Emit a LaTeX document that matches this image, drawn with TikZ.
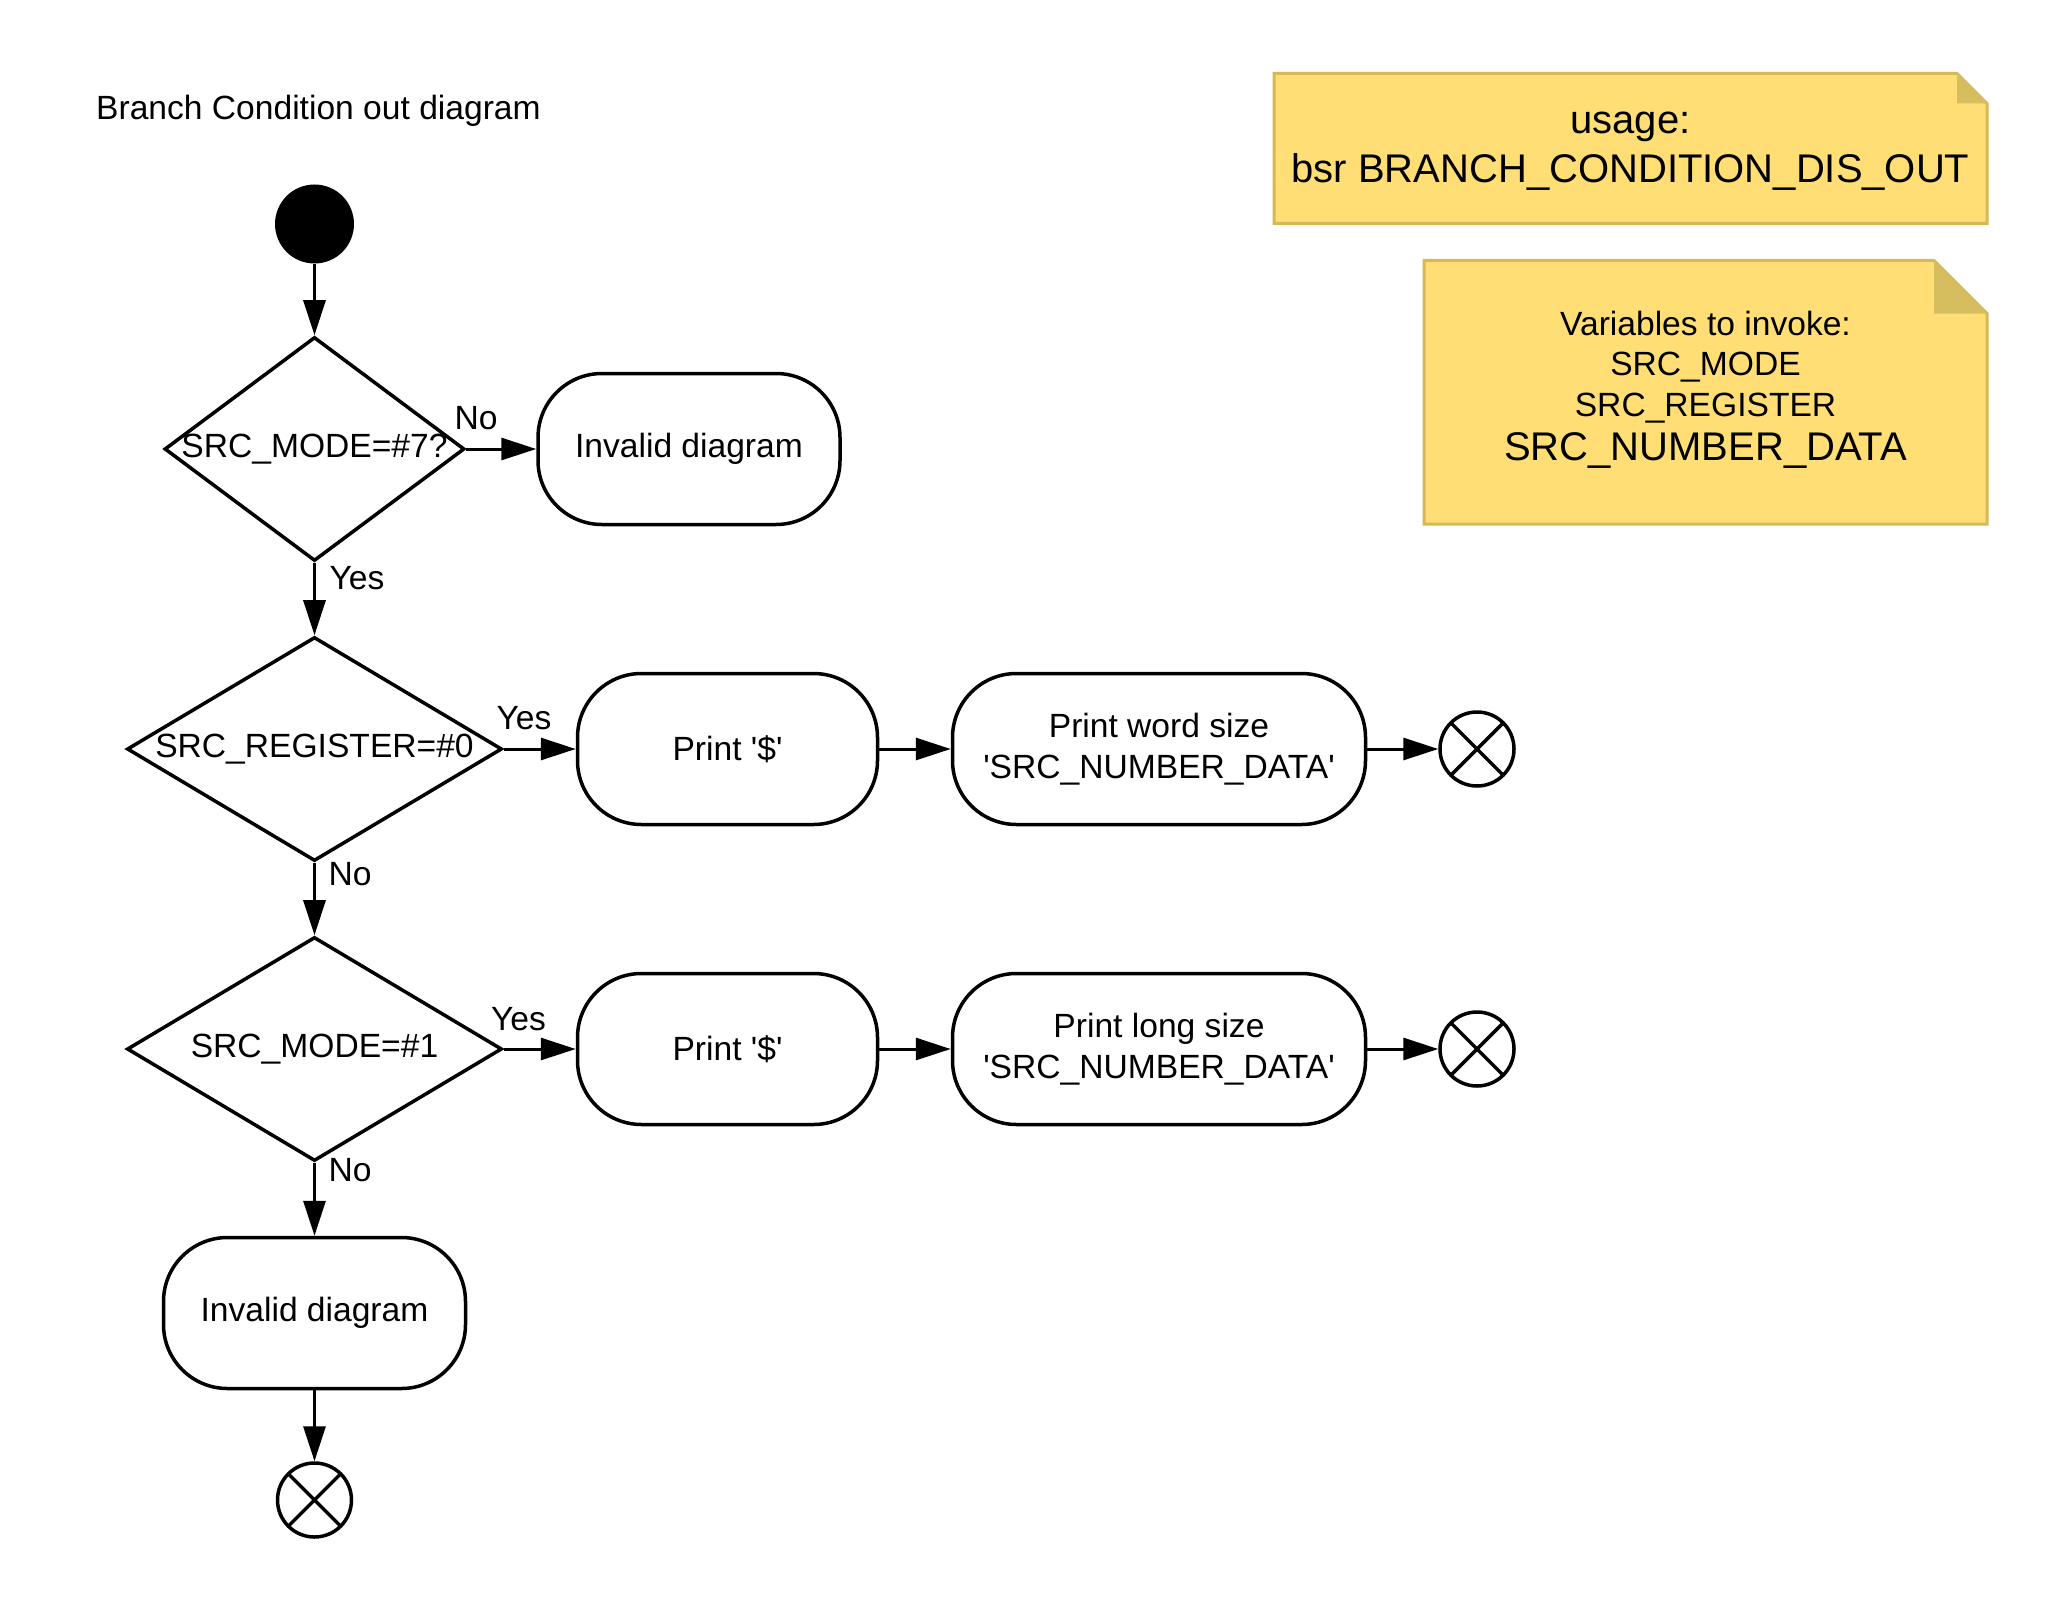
\documentclass[tikz,border=0pt]{standalone}
\usepackage{fontspec}
\setmainfont{Liberation Sans}
\usetikzlibrary{shapes.geometric,arrows.meta}
\definecolor{notefill}{RGB}{255,223,117}
\definecolor{noteline}{RGB}{214,184,88}
\definecolor{notefold}{RGB}{214,190,95}
\begin{document}
\begin{tikzpicture}[x=1pt,y=-1pt,
  txt/.style={font=\fontsize{33.6}{41}\selectfont},
  decision/.style={diamond, draw, line width=3.5pt, inner sep=0pt},
  action/.style={rectangle, rounded corners=64pt, draw, line width=3.5pt, minimum height=151pt, align=center, inner sep=0pt, txt},
  startnode/.style={circle, fill=black, minimum size=79pt, inner sep=0pt},
  endnode/.style={circle, draw, line width=3.5pt, minimum size=74pt, inner sep=0pt,
    path picture={\draw[line width=3.5pt] (path picture bounding box.north west) -- (path picture bounding box.south east)
      (path picture bounding box.north east) -- (path picture bounding box.south west);}},
  flow/.style={line width=3pt, -{Triangle[length=35pt,width=22pt]}},
  lbl/.style={txt, inner sep=0pt},
  notebox/.style={fill=notefill, draw=noteline, line width=3pt, line join=miter},
]
\useasboundingbox (0,0) rectangle (2063,1613);

% title
\node[lbl, anchor=base west] (title) at (96,120) {Branch Condition out diagram};

% notes
\path[notebox] (1274,73.5) -- (1957,73.5) -- (1987,103.5) -- (1987,223.5) -- (1274,223.5) -- cycle;
\fill[notefold] (1957,73.5) -- (1957,103.5) -- (1987,103.5) -- cycle;
\node[font=\fontsize{40}{47}\selectfont, inner sep=0pt, anchor=base] (n1a) at (1630.5,134) {usage:};
\node[font=\fontsize{40}{47}\selectfont, inner sep=0pt, anchor=base] (n1b) at (1630.5,182.5) {bsr BRANCH\_CONDITION\_DIS\_OUT};

\path[notebox] (1424,260.5) -- (1934,260.5) -- (1987,313.5) -- (1987,524) -- (1424,524) -- cycle;
\fill[notefold] (1934,260.5) -- (1934,313.5) -- (1987,313.5) -- cycle;
\node[lbl, anchor=base] (n2a) at (1705.5,335) {Variables to invoke:};
\node[lbl, anchor=base] (n2b) at (1705.5,375) {SRC\_MODE};
\node[lbl, anchor=base] (n2c) at (1705.5,416) {SRC\_REGISTER};
\node[font=\fontsize{40}{47}\selectfont, inner sep=0pt, anchor=base] (n2d) at (1705.5,460.5) {SRC\_NUMBER\_DATA};

% flow nodes
\node[startnode] (start) at (314.5,224) {};
\node[decision, minimum width=300pt, minimum height=224pt, label={[lbl]center:SRC\_MODE=\#7?}] (d1) at (314.5,449) {};
\node[action, minimum width=302pt] (inv1) at (689,449) {Invalid diagram};

\node[decision, minimum width=375pt, minimum height=224pt, label={[lbl]center:SRC\_REGISTER=\#0}] (d2) at (314.5,749) {};
\node[action, minimum width=300pt] (p1) at (727.5,749) {Print \textquotesingle\$\textquotesingle};
\node[action, minimum width=413pt] (w1) at (1159,749) {Print word size\\\textquotesingle SRC\_NUMBER\_DATA\textquotesingle};
\node[endnode] (e1) at (1477,749) {};

\node[decision, minimum width=375pt, minimum height=224pt, label={[lbl]center:SRC\_MODE=\#1}] (d3) at (314.5,1049) {};
\node[action, minimum width=300pt] (p2) at (727.5,1049) {Print \textquotesingle\$\textquotesingle};
\node[action, minimum width=413pt] (w2) at (1159,1049) {Print long size\\\textquotesingle SRC\_NUMBER\_DATA\textquotesingle};
\node[endnode] (e2) at (1477,1049) {};

\node[action, minimum width=302pt] (inv2) at (314.5,1313) {Invalid diagram};
\node[endnode] (e3) at (314.5,1500) {};

% connectors
\draw[flow] (start) -- (d1);
\draw[flow] (d1) -- (inv1);
\draw[flow] (d1) -- (d2);
\draw[flow] (d2) -- (p1);
\draw[flow] (p1) -- (w1);
\draw[flow] (w1) -- (e1);
\draw[flow] (d2) -- (d3);
\draw[flow] (d3) -- (p2);
\draw[flow] (p2) -- (w2);
\draw[flow] (w2) -- (e2);
\draw[flow] (d3) -- (inv2);
\draw[flow] (inv2) -- (e3);

% connector labels
\node[lbl] (l1) at (476,418) {No};
\node[lbl] (l2) at (357,578) {Yes};
\node[lbl] (l3) at (524,718) {Yes};
\node[lbl] (l4) at (350,874) {No};
\node[lbl] (l5) at (518.5,1019) {Yes};
\node[lbl] (l6) at (350,1170) {No};
\end{tikzpicture}
\end{document}
